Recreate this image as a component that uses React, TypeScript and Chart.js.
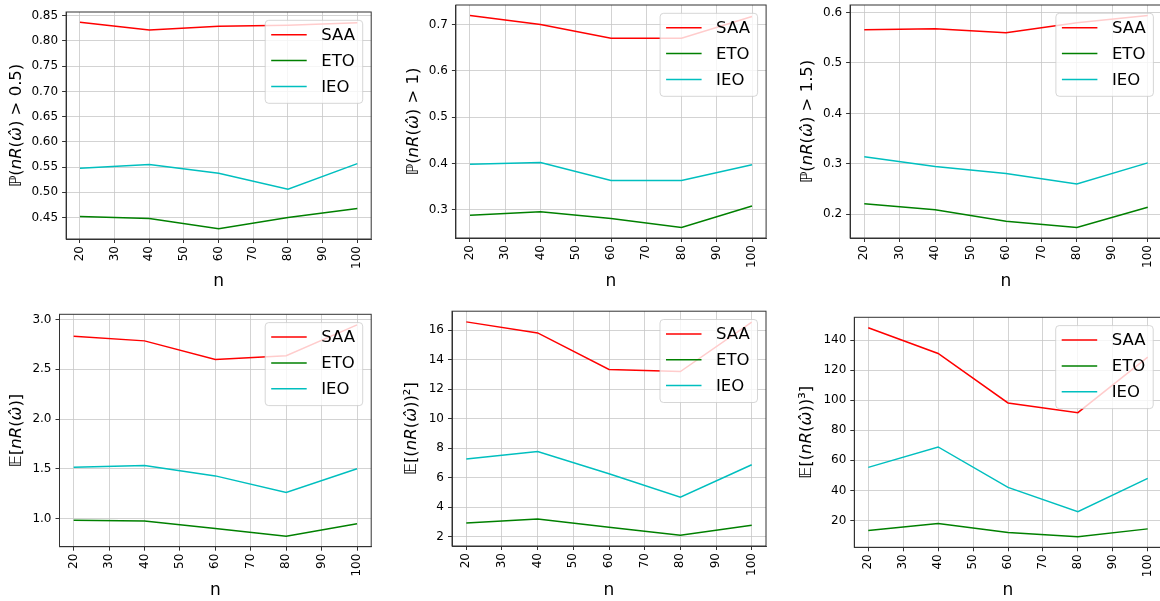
import React, { useEffect, useRef } from "react";
import { Chart, registerables } from "chart.js";
Chart.register(...registerables);

// ---------- data ----------
const nValues = [20, 40, 60, 80, 100];
const xTicks = [20, 30, 40, 50, 60, 70, 80, 90, 100];
const seriesNames = ["SAA", "ETO", "IEO"];
const seriesColors = ["#ff0000", "#008000", "#00bfbf"];

const saaP05 = [0.837, 0.822, 0.829, 0.831, 0.836];
const etoP05 = [0.452, 0.448, 0.428, 0.45, 0.468];
const ieoP05 = [0.548, 0.555, 0.538, 0.506, 0.557];
const yTicksP05 = [0.45, 0.5, 0.55, 0.6, 0.65, 0.7, 0.75, 0.8, 0.85];

const saaP1 = [0.719, 0.7, 0.67, 0.67, 0.717];
const etoP1 = [0.288, 0.296, 0.281, 0.262, 0.308];
const ieoP1 = [0.398, 0.402, 0.363, 0.363, 0.397];
const yTicksP1 = [0.3, 0.4, 0.5, 0.6, 0.7];

const saaP15 = [0.566, 0.568, 0.56, 0.58, 0.594];
const etoP15 = [0.221, 0.209, 0.186, 0.174, 0.214];
const ieoP15 = [0.314, 0.295, 0.281, 0.26, 0.302];
const yTicksP15 = [0.2, 0.3, 0.4, 0.5, 0.6];

const saaE1 = [2.833, 2.786, 2.599, 2.636, 2.947];
const etoE1 = [0.983, 0.973, 0.9, 0.822, 0.946];
const ieoE1 = [1.515, 1.532, 1.428, 1.261, 1.5];
const yTicksE1 = [1.0, 1.5, 2.0, 2.5, 3.0];

const saaE2 = [16.57, 15.82, 13.34, 13.2, 16.55];
const etoE2 = [2.92, 3.19, 2.63, 2.09, 2.77];
const ieoE2 = [7.26, 7.78, 6.27, 4.68, 6.88];
const yTicksE2 = [2, 4, 6, 8, 10, 12, 14, 16];

const saaE3 = [148.2, 131.1, 98.2, 91.7, 128.7];
const etoE3 = [13.3, 18.0, 12.0, 9.1, 14.4];
const ieoE3 = [55.3, 68.9, 42.0, 25.8, 48.0];
const yTicksE3 = [20, 40, 60, 80, 100, 120, 140];

type Seg = [string, boolean];
const yLabelP05: Seg[] = [["ℙ(", false], ["nR", true], ["(", false], ["ω̂", true], [") > 0.5)", false]];
const yLabelP1: Seg[] = [["ℙ(", false], ["nR", true], ["(", false], ["ω̂", true], [") > 1)", false]];
const yLabelP15: Seg[] = [["ℙ(", false], ["nR", true], ["(", false], ["ω̂", true], [") > 1.5)", false]];
const yLabelE1: Seg[] = [["𝔼[", false], ["nR", true], ["(", false], ["ω̂", true], [")]", false]];
const yLabelE2: Seg[] = [["𝔼[(", false], ["nR", true], ["(", false], ["ω̂", true], ["))²]", false]];
const yLabelE3: Seg[] = [["𝔼[(", false], ["nR", true], ["(", false], ["ω̂", true], ["))³]", false]];
const xLabel = "n";

// ---------- layout ----------
type Panel = {
  series: number[][];
  yTicks: number[];
  dec: number;
  label: Seg[];
  canvas: [number, number, number, number];
  plot: [number, number, number, number];
  yTitleX: number;
  xTitleY: number;
};

const panels: Panel[] = [
  { series: [saaP05, etoP05, ieoP05], yTicks: yTicksP05, dec: 2, label: yLabelP05,
    canvas: [0, -10, 390, 310], plot: [66.1, 12, 371.2, 239], yTitleX: 17, xTitleY: 286 },
  { series: [saaP1, etoP1, ieoP1], yTicks: yTicksP1, dec: 1, label: yLabelP1,
    canvas: [390, -10, 390, 310], plot: [455.9, 5, 766.1, 238], yTitleX: 413.6, xTitleY: 286 },
  { series: [saaP15, etoP15, ieoP15], yTicks: yTicksP15, dec: 1, label: yLabelP15,
    canvas: [775, -10, 400, 310], plot: [850.1, 5, 1161.9, 238], yTitleX: 807.8, xTitleY: 286 },
  { series: [saaE1, etoE1, ieoE1], yTicks: yTicksE1, dec: 1, label: yLabelE1,
    canvas: [0, 300, 390, 301], plot: [59.5, 314.3, 371.2, 546.7], yTitleX: 17.2, xTitleY: 595 },
  { series: [saaE2, etoE2, ieoE2], yTicks: yTicksE2, dec: 0, label: yLabelE2,
    canvas: [390, 300, 390, 301], plot: [452, 311, 766, 546], yTitleX: 412, xTitleY: 595 },
  { series: [saaE3, etoE3, ieoE3], yTicks: yTicksE3, dec: 0, label: yLabelE3,
    canvas: [775, 300, 400, 301], plot: [854.3, 317.3, 1161.7, 547.3], yTitleX: 806.7, xTitleY: 595 },
];

const FONT = "'DejaVu Sans', sans-serif";
const GRID = "#c8c8c8";
const SPINE = "#333333";

function PanelChart({ p }: { p: Panel }) {
  const ref = useRef<HTMLCanvasElement | null>(null);
  useEffect(() => {
    const el = ref.current;
    if (!el) return;
    const [cx, cy, cw, ch] = p.canvas;
    const [pl, pt, pr, pb] = p.plot;
    const all = p.series.flat();
    const lo = Math.min(...all);
    const hi = Math.max(...all);
    const m = (hi - lo) * 0.05;
    const xlo = Math.min(...nValues);
    const xhi = Math.max(...nValues);
    const xm = (xhi - xlo) * 0.05;

    const deco = {
      id: "deco",
      afterDatasetsDraw(chart: any) {
        const ctx = chart.ctx;
        const a = chart.chartArea;
        ctx.save();
        // spines
        ctx.strokeStyle = SPINE;
        ctx.lineWidth = 1;
        ctx.strokeRect(a.left, a.top, a.right - a.left, a.bottom - a.top);
        // legend
        const bw = 97.5, bh = 83;
        const bx = a.right - 8.5 - bw;
        const by = a.top + 8.3;
        const r = 3.5;
        ctx.beginPath();
        ctx.moveTo(bx + r, by);
        ctx.lineTo(bx + bw - r, by);
        ctx.quadraticCurveTo(bx + bw, by, bx + bw, by + r);
        ctx.lineTo(bx + bw, by + bh - r);
        ctx.quadraticCurveTo(bx + bw, by + bh, bx + bw - r, by + bh);
        ctx.lineTo(bx + r, by + bh);
        ctx.quadraticCurveTo(bx, by + bh, bx, by + bh - r);
        ctx.lineTo(bx, by + r);
        ctx.quadraticCurveTo(bx, by, bx + r, by);
        ctx.closePath();
        ctx.fillStyle = "rgba(255,255,255,0.8)";
        ctx.fill();
        ctx.strokeStyle = "rgba(204,204,204,0.8)";
        ctx.lineWidth = 1;
        ctx.stroke();
        ctx.font = `16.5px ${FONT}`;
        ctx.textBaseline = "middle";
        ctx.textAlign = "left";
        seriesNames.forEach((name, i) => {
          const yy = by + 14.5 + i * 25.8;
          ctx.strokeStyle = seriesColors[i];
          ctx.lineWidth = 1.5;
          ctx.beginPath();
          ctx.moveTo(bx + 6, yy);
          ctx.lineTo(bx + 41.5, yy);
          ctx.stroke();
          ctx.fillStyle = "#000";
          ctx.fillText(name, bx + 56, yy + 1);
        });
        ctx.restore();
      },
      afterDraw(chart: any) {
        const ctx = chart.ctx;
        const a = chart.chartArea;
        ctx.save();
        ctx.fillStyle = "#000";
        // x title
        ctx.font = `17px ${FONT}`;
        ctx.textAlign = "center";
        ctx.textBaseline = "alphabetic";
        ctx.fillText(xLabel, (a.left + a.right) / 2, p.xTitleY - cy);
        // y title (mixed italic segments)
        const size = 16.5;
        const fontOf = (it: boolean) => `${it ? "oblique " : ""}${size}px ${FONT}`;
        let total = 0;
        const widths = p.label.map(([t, it]) => {
          ctx.font = fontOf(it);
          const w = ctx.measureText(t).width;
          total += w;
          return w;
        });
        ctx.translate(p.yTitleX - cx, (a.top + a.bottom) / 2);
        ctx.rotate(-Math.PI / 2);
        ctx.textAlign = "left";
        ctx.textBaseline = "middle";
        let x = -total / 2;
        p.label.forEach(([t, it], i) => {
          ctx.font = fontOf(it);
          ctx.fillText(t, x, 0);
          x += widths[i];
        });
        ctx.restore();
      },
    };

    const chart = new Chart(el, {
      type: "line",
      data: {
        datasets: p.series.map((s, i) => ({
          label: seriesNames[i],
          data: nValues.map((n, j) => ({ x: n, y: s[j] })),
          borderColor: seriesColors[i],
          backgroundColor: seriesColors[i],
          borderWidth: 1.5,
          pointRadius: 0,
          tension: 0,
          fill: false,
        })),
      },
      options: {
        responsive: false,
        animation: false,
        devicePixelRatio: 1,
        layout: { padding: { left: 0, top: pt - cy, right: cx + cw - pr, bottom: 0 } },
        plugins: { legend: { display: false }, tooltip: { enabled: false } },
        scales: {
          x: {
            type: "linear",
            min: xlo - xm,
            max: xhi + xm,
            afterBuildTicks: (s: any) => {
              s.ticks = xTicks.map((v) => ({ value: v }));
            },
            afterFit: (s: any) => {
              s.height = cy + ch - pb;
            },
            ticks: {
              minRotation: 90,
              maxRotation: 90,
              autoSkip: false,
              color: "#000",
              font: { family: FONT, size: 12 },
              padding: 3,
              callback: (v: any) => String(v),
            },
            grid: { color: GRID, lineWidth: 0.8, tickLength: 4, tickColor: SPINE, tickWidth: 1 },
            border: { display: true, color: SPINE, width: 1 },
          },
          y: {
            type: "linear",
            min: lo - m,
            max: hi + m,
            afterBuildTicks: (s: any) => {
              s.ticks = p.yTicks.map((v) => ({ value: v }));
            },
            afterFit: (s: any) => {
              s.width = pl - cx;
            },
            ticks: {
              color: "#000",
              font: { family: FONT, size: 12 },
              padding: 4,
              callback: (v: any) => Number(v).toFixed(p.dec),
            },
            grid: { color: GRID, lineWidth: 0.8, tickLength: 4, tickColor: SPINE, tickWidth: 1 },
            border: { display: true, color: SPINE, width: 1 },
          },
        },
      },
      plugins: [deco],
    } as any);
    return () => chart.destroy();
  }, [p]);

  const [cx, cy, cw, ch] = p.canvas;
  return (
    <canvas
      ref={ref}
      width={cw}
      height={ch}
      style={{ position: "absolute", left: cx, top: cy, width: cw, height: ch }}
    />
  );
}

export default function App() {
  return (
    <div
      style={{
        position: "absolute",
        left: 0,
        top: 0,
        width: 1160,
        height: 601,
        overflow: "hidden",
        background: "#ffffff",
      }}
    >
      {panels.map((p, i) => (
        <PanelChart key={i} p={p} />
      ))}
    </div>
  );
}
